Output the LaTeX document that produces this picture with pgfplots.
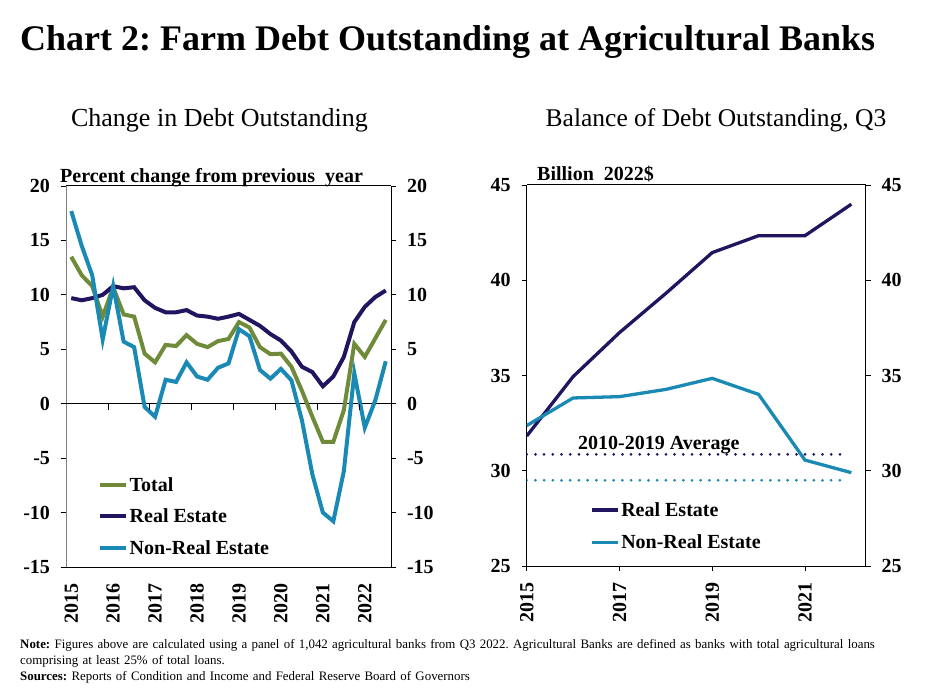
\documentclass[border=0pt]{standalone}
\usepackage{fontspec}
\setmainfont{Liberation Serif}
\usepackage{pgfplots}
\pgfplotsset{compat=1.18}

\definecolor{totgreen}{RGB}{111,139,58}
\definecolor{renavy}{RGB}{33,21,96}
\definecolor{nreblue}{RGB}{26,138,181}

\newcommand{\tfont}{\bfseries\fontsize{20}{20}\selectfont}

\pgfplotsset{
  panel/.style={
    scale only axis, anchor=south west,
    tick align=outside, major tick length=5pt,
    tick style={black, line width=0.8pt},
    axis line style={line width=1pt},
    ticklabel style={font=\tfont},
    yticklabel shift=7.5pt, xticklabel shift=8pt,
    /pgf/number format/assume math mode=true,
    xticklabel style={rotate=90, anchor=east},
    legend cell align=left,
    legend style={draw=none, fill=none, font=\tfont, row sep=12pt, inner sep=0pt},
    legend image code/.code={\draw[#1] (0pt,0pt) -- (26pt,0pt);},
  },
}

\begin{document}
\frenchspacing
\begin{tikzpicture}
\path[use as bounding box] (0pt,0pt) rectangle (925pt,693pt);

% titles
\node[anchor=base west, inner sep=0pt, font=\bfseries\fontsize{36}{36}\selectfont] at (20pt,642pt) {Chart 2: Farm Debt Outstanding at Agricultural Banks};
\node[anchor=base, inner sep=0pt, font=\fontsize{26}{26}\selectfont] at (219.5pt,566pt) {Change in Debt Outstanding};
\node[anchor=base, inner sep=0pt, font=\fontsize{25.5}{25.5}\selectfont] at (716pt,566pt) {Balance of Debt Outstanding, Q3};

% left panel: year-over-year change, quarterly 2015Q1-2022Q3
\begin{axis}[panel, at={(66pt,126pt)}, width=325pt, height=381pt,
  xmin=-0.5, xmax=30.5, ymin=-15, ymax=20,
  ytick={-15,-10,...,20},
  xtick={0,4,...,28}, xticklabels={2015,2016,2017,2018,2019,2020,2021,2022},
  major x tick style={draw=none},
  axis x line*=bottom, axis y line*=left,
  y axis line style={draw=gray},
  extra y ticks={0}, extra y tick labels={},
  extra y tick style={grid=major, major grid style={black, line width=1pt}},
  legend style={at={(0.097,0.241)}, anchor=north west, row sep=12pt},
]
\addplot[totgreen, line width=4pt] coordinates {
(0,13.5)(1,11.8)(2,10.8)(3,8.0)(4,10.7)(5,8.2)(6,8.0)(7,4.6)(8,3.8)(9,5.4)
(10,5.3)(11,6.3)(12,5.5)(13,5.2)(14,5.75)(15,5.95)(16,7.5)(17,7.0)(18,5.2)(19,4.55)
(20,4.6)(21,3.4)(22,1.2)(23,-1.2)(24,-3.5)(25,-3.5)(26,-0.6)(27,5.5)(28,4.3)(29,6.0)(30,7.7)};
\addlegendentry{Total}
\addplot[renavy, line width=4pt] coordinates {
(0,9.7)(1,9.5)(2,9.7)(3,10.0)(4,10.8)(5,10.6)(6,10.7)(7,9.5)(8,8.8)(9,8.4)
(10,8.4)(11,8.6)(12,8.1)(13,8.0)(14,7.8)(15,8.0)(16,8.25)(17,7.7)(18,7.15)(19,6.4)
(20,5.8)(21,4.8)(22,3.4)(23,2.9)(24,1.6)(25,2.5)(26,4.3)(27,7.5)(28,8.9)(29,9.8)(30,10.4)};
\addlegendentry{Real Estate}
\addplot[nreblue, line width=4pt] coordinates {
(0,17.7)(1,14.5)(2,11.8)(3,5.9)(4,10.8)(5,5.7)(6,5.2)(7,-0.3)(8,-1.2)(9,2.2)
(10,2.0)(11,3.8)(12,2.5)(13,2.2)(14,3.3)(15,3.7)(16,6.85)(17,6.2)(18,3.1)(19,2.3)
(20,3.2)(21,2.15)(22,-1.5)(23,-6.5)(24,-10.0)(25,-10.8)(26,-6.2)(27,2.8)(28,-2.2)(29,0.3)(30,3.9)};
\addlegendentry{Non-Real Estate}
% year separators hanging under the zero line
\pgfplotsinvokeforeach{3.5,7.5,11.5,15.5,19.5,23.5,27.5}{
  \draw[black, line width=0.8pt] (axis cs:#1,0) -- ++(0pt,-6pt);
}
\end{axis}
\begin{axis}[panel, at={(66pt,126pt)}, width=325pt, height=381pt,
  xmin=-0.5, xmax=30.5, ymin=-15, ymax=20,
  ytick={-15,-10,...,20}, xtick=\empty,
  axis x line*=top, axis y line*=right,
]
\end{axis}
\node[anchor=base west, inner sep=0pt, font=\tfont] at (60pt,510pt) {Percent change from previous\ \ year};

% right panel: balance in Q3, billions of 2022 dollars (x = years since 2015)
\begin{axis}[panel, at={(526.7pt,127pt)}, width=339pt, height=381pt,
  xmin=0, xmax=7.31, ymin=25, ymax=45,
  ytick={25,30,...,45},
  xtick={0,2,4,6}, xticklabels={2015,2017,2019,2021},
  axis x line*=bottom, axis y line*=left,
  legend style={at={(0.186,0.173)}, anchor=north west, row sep=13pt},
]
\addplot[renavy, line width=3pt, dash pattern=on 0pt off 8.7pt, line cap=round, forget plot]
  coordinates {(0,30.86)(6.87,30.86)};
\addplot[nreblue, line width=3pt, dash pattern=on 0pt off 8.7pt, line cap=round, forget plot]
  coordinates {(0,29.50)(6.87,29.50)};
\addplot[renavy, line width=3.3pt] coordinates {
(0,31.82)(1,34.94)(2,37.25)(3,39.31)(4,41.45)(5,42.34)(6,42.34)(7,43.99)};
\addlegendentry{Real Estate}
\addplot[nreblue, line width=3.3pt] coordinates {
(0,32.37)(1,33.82)(2,33.89)(3,34.27)(4,34.85)(5,34.01)(6,30.56)(7,29.90)};
\addlegendentry{Non-Real Estate}
\end{axis}
\begin{axis}[panel, at={(526.7pt,127pt)}, width=339pt, height=381pt,
  xmin=0, xmax=7.31, ymin=25, ymax=45,
  ytick={25,30,...,45}, xtick=\empty,
  axis x line*=top, axis y line*=right,
]
\end{axis}
\node[anchor=base west, inner sep=0pt, font=\tfont] at (537pt,512pt) {Billion\ \ 2022\$};
\node[anchor=base west, inner sep=0pt, font=\tfont] at (578pt,243pt) {2010-2019 Average};

% notes
\node[anchor=base west, inner sep=0pt, align=left, text width=890pt,
  font=\fontsize{12.9}{16}\selectfont] at (20pt,45pt)
  {\textbf{Note:} Figures above are calculated using a panel of 1,042 agricultural banks from Q3 2022. Agricultural Banks are defined as banks with total agricultural loans\\
   comprising at least 25\% of total loans.\\
   \textbf{Sources:} Reports of Condition and Income and Federal Reserve Board of Governors};
\end{tikzpicture}
\end{document}
